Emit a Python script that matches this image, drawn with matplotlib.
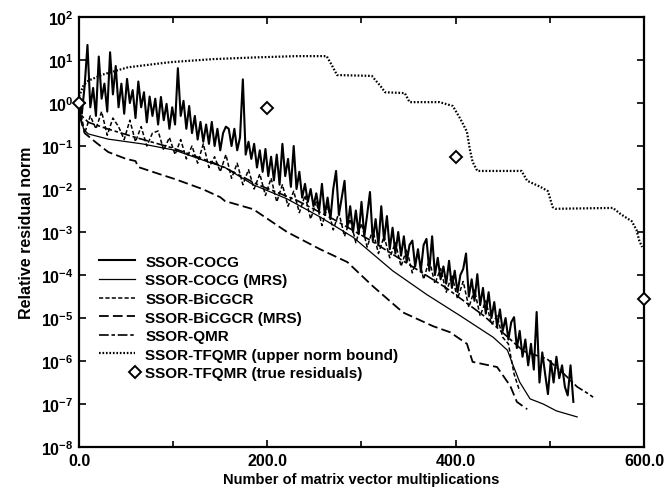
import numpy as np
import matplotlib
matplotlib.use("Agg")
import matplotlib.pyplot as plt
from matplotlib.legend_handler import HandlerLine2D

# -- Convergence histories (log10 of relative residual norm) ---------------
cocg_x = np.arange(0, 526, 3)
cocg_log = [
    0.0, -0.25, 0.4, 1.35, -0.1, 0.35, -0.3, 1.08, 0.1, 0.45,
    -0.2, 1.18, 0.2, 0.86, -0.1, 0.45, -0.25, 0.56, 0.0, 0.3,
    -0.35, 0.5, -0.1, 0.25, -0.45, 0.15, -0.3, 0.1, -0.5, 0.14,
    -0.4, -0.02, -0.6, -0.1, -0.5, 0.81, -0.3, 0.05, -0.6, -0.07,
    -0.7, -0.3, -0.85, -0.44, -0.9, -0.5, -0.95, -0.44, -1.0, -0.6,
    -1.1, -0.7, -0.55, -0.6, -1.0, -0.6, -1.1, -0.8, 0.55, -1.2,
    -0.9, -1.3, -0.95, -1.5, -1.1, -1.6, -1.07, -1.7, -1.25, -1.8,
    -1.2, -1.9, -0.95, -1.7, -1.3, -1.95, -1.0, -2.0, -1.6, -2.2,
    -1.88, -2.3, -2.0, -2.4, -2.1, -2.5, -1.88, -2.6, -2.2, -2.7,
    -2.0, -1.58, -2.6, -2.2, -1.81, -2.9, -2.4, -3.0, -2.5, -3.05,
    -2.3, -3.1, -2.6, -2.07, -3.2, -2.7, -3.3, -2.4, -3.2, -2.63,
    -3.4, -2.9, -3.5, -3.0, -3.55, -3.1, -3.7, -3.3, -3.2, -3.8,
    -3.4, -3.9, -3.3, -3.16, -3.9, -3.1, -4.0, -3.6, -4.1, -3.8,
    -4.2, -3.67, -4.3, -3.9, -4.4, -4.0, -3.86, -3.5, -4.5, -4.1,
    -4.6, -3.98, -4.7, -4.3, -4.9, -4.4, -5.0, -4.63, -5.2, -4.8,
    -5.3, -5.0, -5.5, -5.1, -4.98, -5.7, -5.3, -5.9, -5.5, -6.1,
    -5.6, -6.2, -4.86, -6.5, -5.8, -6.3, -6.77, -6.0, -6.5, -5.9,
    -6.4, -6.1, -6.6, -6.8, -6.1, -6.95,
]

cocg_mrs_x = [0, 2, 5, 10, 31, 67, 102, 137, 155, 185, 221, 256, 291, 333,
              369, 405, 440, 455, 461, 468, 479, 493, 507, 529]
cocg_mrs_log = [0.0, -0.35, -0.62, -0.72, -0.84, -0.95, -1.1, -1.37, -1.5,
                -1.9, -2.23, -2.65, -3.12, -3.9, -4.45, -4.95, -5.45, -5.75,
                -6.1, -6.49, -6.88, -7.0, -7.16, -7.3]

bicgcr_x = np.arange(0, 469, 6)
bicgcr_log = [
    0.0, -0.7, -0.3, -0.6, -0.2, -0.75, -0.35, -0.55, -0.85, -0.4,
    -0.9, -0.55, -1.0, -0.7, -0.65, -1.1, -0.8, -1.2, -0.85, -1.3,
    -1.0, -1.4, -0.95, -1.5, -1.25, -1.6, -1.2, -1.75, -1.4, -1.9,
    -1.55, -2.0, -1.65, -2.15, -1.75, -2.3, -1.9, -2.4, -2.05, -2.55,
    -2.15, -2.7, -2.3, -2.85, -2.4, -2.95, -2.55, -3.1, -2.7, -3.25,
    -2.8, -3.35, -2.95, -3.5, -3.1, -3.6, -3.25, -3.8, -3.4, -3.95,
    -3.5, -4.1, -3.65, -4.2, -3.85, -4.4, -4.0, -4.55, -4.15, -4.75,
    -4.35, -4.95, -4.6, -5.15, -4.95, -5.45, -5.6, -6.3, -6.7,
]

bicgcr_mrs_x = [0, 2, 6, 17, 31, 50, 60, 63, 85, 102, 131, 150, 155, 185,
                221, 256, 285, 312, 344, 376, 394, 412, 418, 444, 458, 465, 476]
bicgcr_mrs_log = [0.0, -0.4, -0.7, -0.9, -1.14, -1.3, -1.35, -1.49, -1.65,
                  -1.77, -2.0, -2.19, -2.28, -2.47, -3.0, -3.4, -3.7, -4.26,
                  -4.87, -5.19, -5.33, -5.6, -6.02, -6.14, -6.58, -6.95, -7.12]

qmr_x = [0, 3, 10, 30, 60, 100, 150, 190, 231, 270, 310, 350, 390, 430, 472,
         497, 515, 529, 540, 546]
qmr_log = [0.0, -0.3, -0.45, -0.6, -0.8, -1.05, -1.45, -1.9, -2.26, -2.7,
           -3.2, -3.75, -4.3, -4.95, -5.77, -5.95, -6.3, -6.6, -6.75, -6.84]

tfqmr_x = [0, 5, 10, 25, 52, 97, 142, 187, 231, 263, 268, 274, 311, 316, 320,
           325, 346, 351, 383, 397, 405, 412, 415, 418, 423, 470, 476, 490,
           498, 503, 506, 567, 575, 587, 592, 595, 598]
tfqmr_log = [0.15, 0.42, 0.52, 0.66, 0.83, 0.95, 1.02, 1.06, 1.09, 1.09, 0.9,
             0.65, 0.63, 0.5, 0.4, 0.25, 0.23, 0.02, 0.02, -0.07, -0.37, -0.67,
             -1.07, -1.37, -1.58, -1.58, -1.81, -1.95, -2.05, -2.42, -2.46,
             -2.44, -2.58, -2.75, -2.95, -3.2, -3.35]

true_res_x = [0, 200, 400, 600]
true_res = [1.0, 0.75, 0.057, 2.8e-5]

# -- Style -------------------------------------------------------------------
plt.rcParams["font.family"] = "Liberation Sans"
plt.rcParams["font.weight"] = "bold"
plt.rcParams["axes.labelweight"] = "bold"
plt.rcParams["mathtext.fontset"] = "custom"
plt.rcParams["mathtext.rm"] = "Liberation Sans:bold"
plt.rcParams["mathtext.bf"] = "Liberation Sans:bold"
plt.rcParams["lines.scale_dashes"] = False


class MarkerAtRight(HandlerLine2D):
    # single legend marker sitting at the right end of the handle slot
    def get_xdata(self, legend, xdescent, ydescent, width, height, fontsize):
        x = -xdescent + width * 1.02
        return [x - 1, x + 1], [x]


fig = plt.figure(figsize=(6.65, 4.89), dpi=100)
ax = fig.add_axes([0.1188, 0.0838, 0.8496, 0.8794])

ax.plot(cocg_x, 10.0 ** np.array(cocg_log), color="black", lw=1.5,
        label="SSOR-COCG")
ax.plot(cocg_mrs_x, 10.0 ** np.array(cocg_mrs_log), color="black", lw=0.9,
        label="SSOR-COCG (MRS)")
ax.plot(bicgcr_x, 10.0 ** np.array(bicgcr_log), color="black", lw=1.1,
        ls=(0, (3, 1.6)), label="SSOR-BiCGCR")
ax.plot(bicgcr_mrs_x, 10.0 ** np.array(bicgcr_mrs_log), color="black", lw=1.3,
        ls=(0, (7, 3)), label="SSOR-BiCGCR (MRS)")
ax.plot(qmr_x, 10.0 ** np.array(qmr_log), color="black", lw=1.2,
        ls=(0, (7, 2, 2.5, 2)), label="SSOR-QMR")
ax.plot(tfqmr_x, 10.0 ** np.array(tfqmr_log), color="black", lw=1.6,
        ls=(0, (1.2, 1.3)), label="SSOR-TFQMR (upper norm bound)")
diamonds, = ax.plot(true_res_x, true_res, ls="none", marker="D", ms=6.5,
                    mfc="white", mec="black", mew=1.4, clip_on=False,
                    zorder=5, label="SSOR-TFQMR (true residuals)")

ax.set_yscale("log")
ax.set_xlim(0, 600)
ax.set_ylim(1e-8, 1e2)
ax.set_yticks([10.0 ** k for k in range(-8, 3)])
ax.set_yticklabels([r"$10^{%d}$" % k for k in range(-8, 3)])
ax.yaxis.set_minor_locator(matplotlib.ticker.NullLocator())
ax.set_xticks([0, 200, 400, 600])
ax.set_xticklabels(["0.0", "200.0", "400.0", "600.0"])
ax.set_xticks([100, 300, 500], minor=True)
ax.tick_params(which="both", direction="in", top=True, right=True,
               labelsize=11.5, width=1.2)
ax.tick_params(which="major", length=5, pad=4)
ax.tick_params(which="minor", length=4)
for s in ax.spines.values():
    s.set_linewidth(1.6)

ax.set_xlabel("Number of matrix vector multiplications", fontsize=10.5,
              labelpad=3)
ax.set_ylabel("Relative residual norm", fontsize=11.5, labelpad=5)

ax.legend(loc="upper left", bbox_to_anchor=(0.035, 0.447), frameon=False,
          fontsize=11, handlelength=2.35, handletextpad=0.7,
          labelspacing=0.3, borderpad=0, borderaxespad=0,
          handler_map={diamonds: MarkerAtRight(numpoints=1)})

fig.savefig("out.png", dpi=100, facecolor="white")
